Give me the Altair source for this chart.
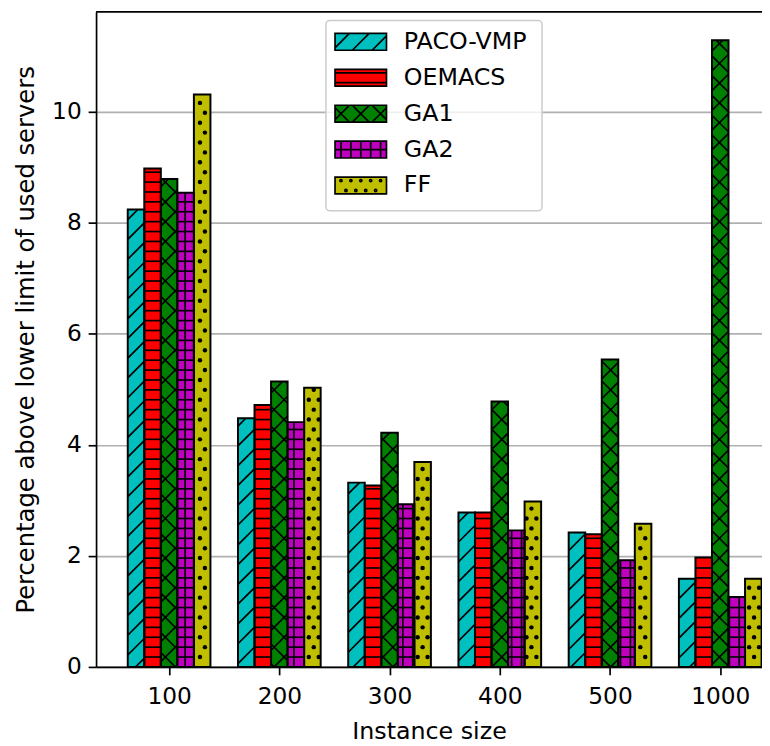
import math
import altair as alt
import pandas as pd

# ---------------- data ----------------
sizes = ["100", "200", "300", "400", "500", "1000"]
algorithms = ["PACO-VMP", "OEMACS", "GA1", "GA2", "FF"]
paco_vmp = [8.24, 4.48, 3.32, 2.78, 2.42, 1.59]
oemacs = [8.98, 4.72, 3.27, 2.78, 2.39, 1.97]
ga1 = [8.79, 5.14, 4.22, 4.78, 5.54, 11.29]
ga2 = [8.54, 4.41, 2.93, 2.46, 1.92, 1.26]
ff = [10.31, 5.03, 3.69, 2.98, 2.58, 1.59]
series = [paco_vmp, oemacs, ga1, ga2, ff]
colors = ["#00bfbf", "#ff0000", "#008000", "#bf00bf", "#bfbf00"]
hatches = ["/", "--", "x", "++", ".."]
y_ticks = [0, 2, 4, 6, 8, 10]

# ---------------- layout ----------------
FONT = "DejaVu Sans"
W, H = 673, 662
SX, SY = 111.4, 56.1            # pixels per data unit
X_MIN = -0.6625
X_MAX = X_MIN + W / SX
Y_MAX = H / SY
BAR_W = 0.15
DIAG, FINE = 20.0, 10.0         # hatch pitches in pixels
LW = 1.7


def diag(x0, x1, y0, y1, pitch, sign, phase=0.0):
    segs = []
    if sign > 0:
        cmin, cmax = y0 - x1, y1 - x0
    else:
        cmin, cmax = y0 + x0, y1 + x1
    for k in range(math.ceil((cmin - phase) / pitch), math.floor((cmax - phase) / pitch) + 1):
        c = k * pitch + phase
        if sign > 0:
            xa, xb = max(x0, y0 - c), min(x1, y1 - c)
        else:
            xa, xb = max(x0, c - y1), min(x1, c - y0)
        if xb - xa > 0.5:
            segs.append((xa, sign * xa + c, xb, sign * xb + c))
    return segs


def horiz(x0, x1, y0, y1, pitch, phase=0.0):
    segs = []
    for k in range(math.ceil((y0 - phase) / pitch), math.floor((y1 - phase) / pitch) + 1):
        y = k * pitch + phase
        if y0 + 0.8 < y < y1 - 0.8:
            segs.append((x0, y, x1, y))
    return segs


def vert(x0, x1, y0, y1, pitch, phase=0.0):
    segs = []
    for k in range(math.ceil((x0 - phase) / pitch), math.floor((x1 - phase) / pitch) + 1):
        x = k * pitch + phase
        if x0 + 0.8 < x < x1 - 0.8:
            segs.append((x, y0, x, y1))
    return segs


def dots(x0, x1, y0, y1, pitch, phase=0.0):
    pts = []
    for j in range(math.ceil((y0 - phase) / pitch), math.floor((y1 - phase) / pitch) + 1):
        y = j * pitch + phase
        if not (y0 + 1.2 < y < y1 - 1.2):
            continue
        off = pitch / 2 if j % 2 else 0.0
        for k in range(math.ceil((x0 - off) / pitch) - 1, math.floor((x1 - off) / pitch) + 2):
            x = k * pitch + off
            if x0 + 1.2 < x < x1 - 1.2:
                pts.append((x, y))
    return pts


def hatch_segments(h, x0, x1, y0, y1, hphase=0.0):
    if h == "/":
        return diag(x0, x1, y0, y1, DIAG, 1)
    if h == "x":
        return diag(x0, x1, y0, y1, DIAG, 1) + diag(x0, x1, y0, y1, DIAG, -1)
    if h == "--":
        return horiz(x0, x1, y0, y1, FINE, hphase)
    if h == "++":
        return horiz(x0, x1, y0, y1, FINE) + vert(x0, x1, y0, y1, FINE)
    return []


def hatch_dots(h, x0, x1, y0, y1, phase=0.0):
    if h == "..":
        return dots(x0, x1, y0, y1, FINE, phase)
    return []


def to_x(px):
    return px / SX + X_MIN


def to_y(py):
    return py / SY


bar_rows, seg_rows, dot_rows = [], [], []
for j, (alg, vals, h) in enumerate(zip(algorithms, series, hatches)):
    for i, v in enumerate(vals):
        xc = i + (j - 2) * BAR_W
        x0, x1 = xc - BAR_W / 2, xc + BAR_W / 2
        bar_rows.append(dict(alg=alg, size=sizes[i], x0=x0, x1=x1, value=v, zero=0.0))
        p0, p1, top = (x0 - X_MIN) * SX, (x1 - X_MIN) * SX, v * SY
        for s in hatch_segments(h, p0, p1, 0.0, top):
            seg_rows.append(dict(x0=to_x(s[0]), value=to_y(s[1]), x1=to_x(s[2]), zero=to_y(s[3])))
        for d in hatch_dots(h, p0, p1, 0.0, top):
            dot_rows.append(dict(x0=to_x(d[0]), value=to_y(d[1])))

bars_df = pd.DataFrame(bar_rows)
seg_df = pd.DataFrame(seg_rows)
dot_df = pd.DataFrame(dot_rows)

# ---------------- legend swatches (custom symbol paths) ----------------
SW_HALF_W, SW_HALF_H = 26.0, 8.5


def fmt(v):
    return f"{v / SW_HALF_W:.3f}"


def swatch_path(h):
    a, b = SW_HALF_W, SW_HALF_H
    parts = [f"M{fmt(-a)},{fmt(-b)}H{fmt(a)}V{fmt(b)}H{fmt(-a)}Z"]
    for (xa, ya, xb, yb) in hatch_segments(h, -a, a, -b, b, hphase=FINE / 2):
        parts.append(f"M{fmt(xa)},{fmt(-ya)}L{fmt(xb)},{fmt(-yb)}")
    r = 1.1
    for (x, y) in hatch_dots(h, -a, a, -b, b, phase=FINE / 2):
        parts.append(
            f"M{fmt(x - r)},{fmt(-y)}a{fmt(r)},{fmt(r)} 0 1,0 {fmt(2 * r)},0"
            f"a{fmt(r)},{fmt(r)} 0 1,0 {fmt(-2 * r)},0"
        )
    return "".join(parts)


LEG_X0, LEG_X1, LEG_Y0, LEG_Y1 = 232.3, 450.7, 8.7, 201.0
SW_CX, TXT_X = 267.5, 311.0
ROW_Y0, ROW_DY = 30.3, 36.3
one_df = pd.DataFrame({"k": [0]})

# ---------------- chart ----------------
xs = alt.Scale(domain=[X_MIN, X_MAX], nice=False, zero=False)
ys = alt.Scale(domain=[0, Y_MAX], nice=False, zero=False)
label_expr = "[" + ",".join(f"'{s}'" for s in sizes) + "][datum.value]"

x_axis = alt.Axis(
    values=list(range(len(sizes))), labelExpr=label_expr, title="Instance size",
    grid=False, tickSize=8, tickWidth=LW, tickColor="black",
    domainColor="black", domainWidth=LW,
    labelFont=FONT, labelFontSize=23.5, labelColor="black", labelPadding=10,
    titleFont=FONT, titleFontSize=24, titleFontWeight="normal", titleColor="black",
    titlePadding=12,
)
y_axis = alt.Axis(
    values=y_ticks, format="d", title="Percentage above lower limit of used servers",
    grid=True, gridColor="#b0b0b0", gridWidth=LW,
    tickSize=8, tickWidth=LW, tickColor="black",
    domainColor="black", domainWidth=LW,
    labelFont=FONT, labelFontSize=23.5, labelColor="black", labelPadding=7,
    titleFont=FONT, titleFontSize=24.5, titleFontWeight="normal", titleColor="black",
    titlePadding=13,
)

bars = alt.Chart(bars_df).mark_rect(strokeWidth=0).encode(
    x=alt.X("x0:Q", scale=xs, axis=x_axis),
    x2="x1:Q",
    y=alt.Y("value:Q", scale=ys, axis=y_axis),
    y2="zero:Q",
    fill=alt.Fill("alg:N", scale=alt.Scale(domain=algorithms, range=colors), legend=None),
)

hatch_lines = alt.Chart(seg_df).mark_rule(color="black", strokeWidth=LW, strokeCap="butt").encode(
    x="x0:Q", y="value:Q", x2="x1:Q", y2="zero:Q"
)

hatch_dots_layer = alt.Chart(dot_df).mark_circle(color="black", size=20, opacity=1).encode(
    x="x0:Q", y="value:Q"
)

outline = alt.Chart(bars_df).mark_rect(fillOpacity=0, stroke="black", strokeWidth=2.0).encode(
    x="x0:Q", x2="x1:Q", y="value:Q", y2="zero:Q"
)

top_spine = alt.Chart(one_df).mark_rule(color="black", strokeWidth=LW).encode(
    x=alt.value(0), x2=alt.value(W), y=alt.value(0)
)

legend_box = alt.Chart(one_df).mark_rect(
    fill="white", fillOpacity=0.8, stroke="#cccccc", strokeWidth=1.5, cornerRadius=4
).encode(
    x=alt.value(LEG_X0), x2=alt.value(LEG_X1), y=alt.value(LEG_Y0), y2=alt.value(LEG_Y1)
)

legend_layers = []
for k, (alg, col, h) in enumerate(zip(algorithms, colors, hatches)):
    ry = ROW_Y0 + k * ROW_DY
    legend_layers.append(
        alt.Chart(one_df).mark_point(
            filled=True, fill=col, stroke="black", strokeWidth=LW, opacity=1,
            size=(2 * SW_HALF_W) ** 2, shape=swatch_path(h),
        ).encode(x=alt.value(SW_CX), y=alt.value(ry))
    )
    legend_layers.append(
        alt.Chart(one_df).mark_text(
            align="left", baseline="middle", font=FONT, fontSize=24, color="black", text=alg
        ).encode(x=alt.value(TXT_X), y=alt.value(ry))
    )

chart = (
    alt.layer(bars, hatch_lines, hatch_dots_layer, outline, top_spine,
              legend_box, *legend_layers)
    .properties(
        width=W, height=H,
        padding={"left": 89, "top": 0, "right": 0, "bottom": 76},
        autosize=alt.AutoSizeParams(type="none"),
    )
    .configure_view(stroke=None)
)

chart.save("out.html", embed_options={"renderer": "svg", "actions": False})
